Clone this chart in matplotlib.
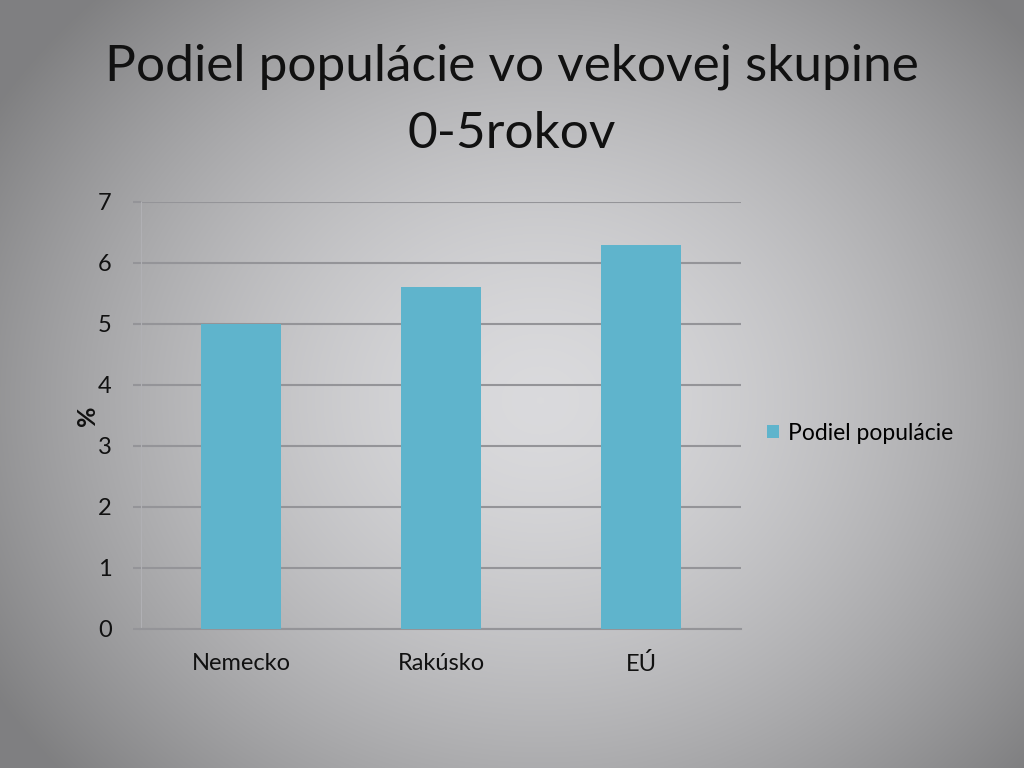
import numpy as np
import matplotlib
matplotlib.use("Agg")
import matplotlib.pyplot as plt

## Data
categories = ['Nemecko', 'Rakúsko', 'EÚ']
values = [5.0, 5.6, 6.3]
series_name = 'Podiel populácie'
title_lines = ['Podiel populácie vo vekovej skupine', '0-5rokov']

plt.rcParams['font.family'] = ['Lato', 'DejaVu Sans']

fig = plt.figure(figsize=(10.24, 7.68), dpi=100)

# radial grey background like the slide
bg = fig.add_axes([0, 0, 1, 1], zorder=-10)
yy, xx = np.mgrid[0:768, 0:1024]
r = np.sqrt(((xx - 540) / 640.0) ** 2 + ((yy - 400) / 560.0) ** 2)
r = np.clip(r, 0, 1)
shade = 0.855 - (0.855 - 0.5) * r ** 1.6
img = np.dstack([shade, shade, shade * 1.012])
bg.imshow(np.clip(img, 0, 1), aspect='auto', extent=[0, 1, 0, 1])
bg.axis('off')

ax = fig.add_axes([0.1377, 0.181, 0.586, 0.556])
ax.patch.set_alpha(0)
x = np.arange(len(categories))
ax.bar(x, values, width=0.4, color='#5fb4cc', label=series_name, zorder=3)

ax.set_xlim(-0.5, 2.5)
ax.set_ylim(0, 7)
ax.set_yticks(range(0, 8))
ax.set_xticks(x)
ax.set_xticklabels(categories)
ax.tick_params(axis='both', labelsize=17, colors='#111111', length=0, pad=17)
ax.tick_params(axis='y', length=6, color='#949498', width=1.5, pad=15)
ax.yaxis.grid(True, color='#949498', linewidth=1.5, zorder=0)

for side in ['top', 'right']:
    ax.spines[side].set_visible(False)
ax.spines['left'].set_color('#b0b0b4')
ax.spines['left'].set_linewidth(0.8)
ax.spines['bottom'].set_color('#949498')
ax.spines['bottom'].set_linewidth(1.5)

ax.set_ylabel('%', fontsize=18, fontweight='bold', color='#111111', labelpad=-1)

# title, two lines placed by baseline
fig.text(0.5, 1 - 81 / 768, title_lines[0], ha='center', va='baseline',
         fontsize=37, color='#111111')
fig.text(0.5, 1 - 148 / 768, title_lines[1], ha='center', va='baseline',
         fontsize=37, color='#111111')

leg = fig.legend(loc='center left', bbox_to_anchor=(0.729, 0.436), frameon=False,
                 fontsize=16.5, handlelength=0.5, handleheight=0.5, handletextpad=0.4)

fig.savefig('out.png', dpi=100)
